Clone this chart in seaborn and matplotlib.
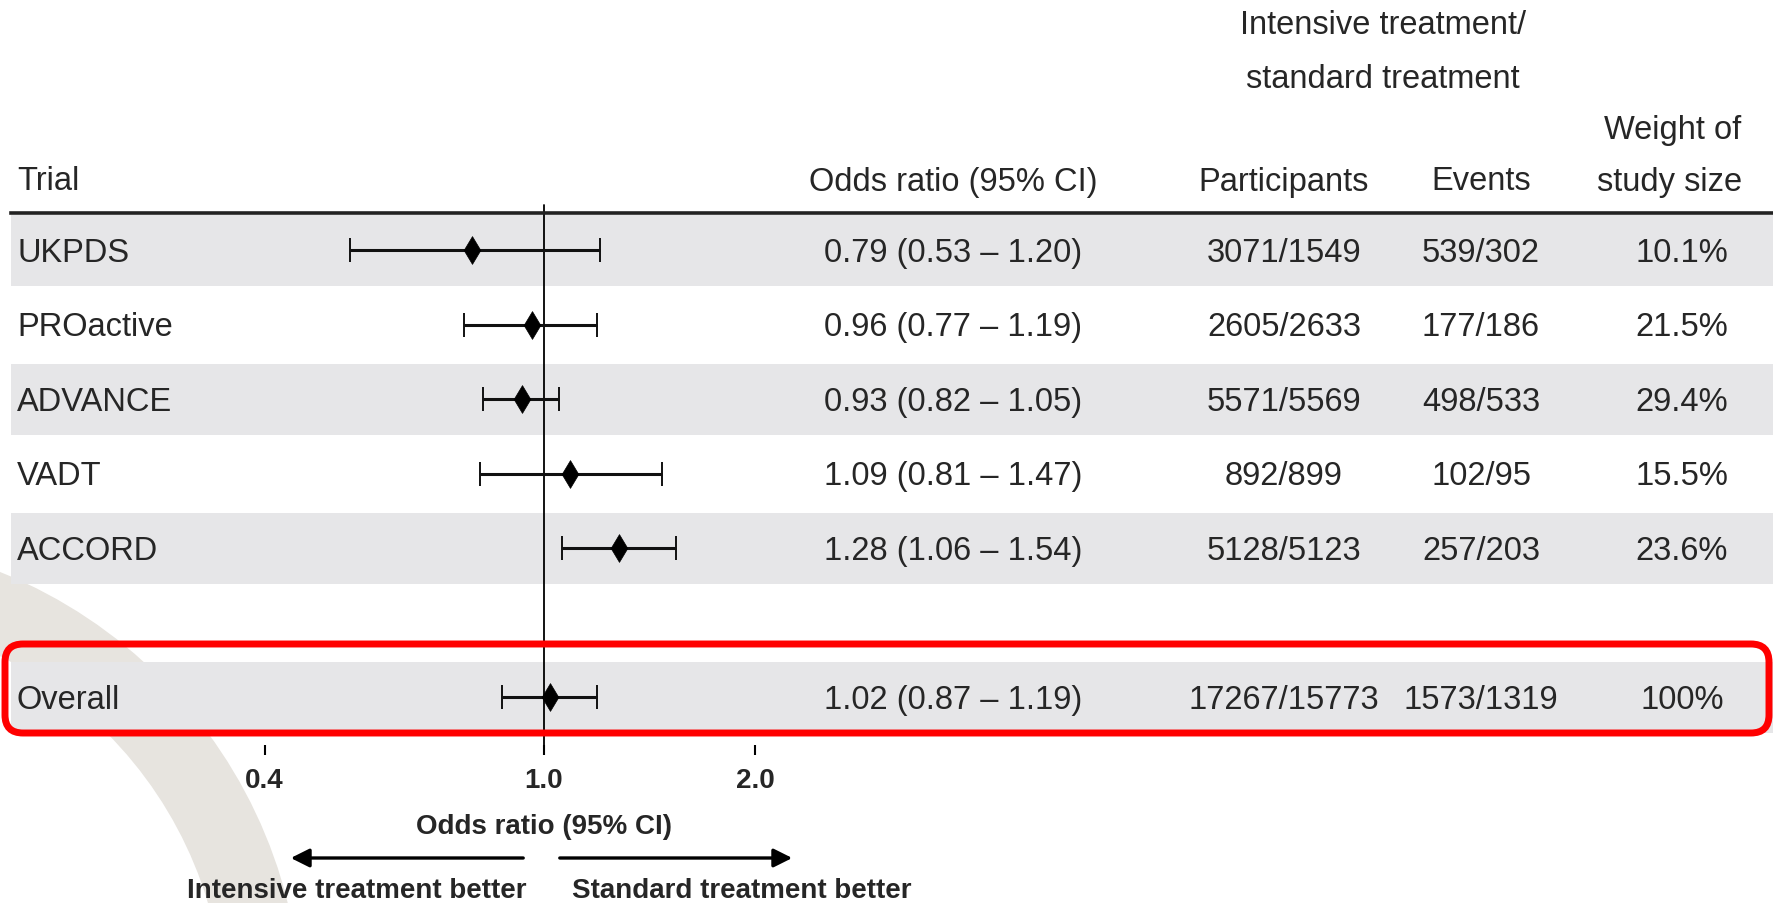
import numpy as np
import pandas as pd
import matplotlib
matplotlib.use("Agg")
import matplotlib.pyplot as plt
import seaborn as sns
from matplotlib import font_manager
from matplotlib.patches import FancyBboxPatch, Wedge
from matplotlib.ticker import NullLocator
from matplotlib.transforms import blended_transform_factory

# data
trials = ["UKPDS", "PROactive", "ADVANCE", "VADT", "ACCORD", "Overall"]
odds = [0.79, 0.96, 0.93, 1.09, 1.28, 1.02]
ci_low = [0.53, 0.77, 0.82, 0.81, 1.06, 0.87]
ci_high = [1.20, 1.19, 1.05, 1.47, 1.54, 1.19]
participants = ["3071/1549", "2605/2633", "5571/5569", "892/899", "5128/5123", "17267/15773"]
events = ["539/302", "177/186", "498/533", "102/95", "257/203", "1573/1319"]
weights = ["10.1%", "21.5%", "29.4%", "15.5%", "23.6%", "100%"]
row_pos = [0, 1, 2, 3, 4, 6]   # blank row before Overall
tick_vals = [0.4, 1.0, 2.0]
tick_labels = ["0.4", "1.0", "2.0"]

df = pd.DataFrame({"trial": trials, "odds": odds, "lo": ci_low, "hi": ci_high, "pos": row_pos})

sns.set_theme(style="white")
names = {f.name for f in font_manager.fontManager.ttflist}
narrow = "Liberation Sans Narrow" in names
FONT = "Liberation Sans Narrow" if narrow else "Liberation Sans"
FS = 28 if narrow else 23.5
FSB = 24 if narrow else 20
plt.rcParams["font.family"] = [FONT, "DejaVu Sans"]

W, H = 1773, 904
fig = plt.figure(figsize=(W / 100, H / 100), dpi=100)

# background layer in pixel coordinates
bg = fig.add_axes([0, 0, 1, 1], zorder=0)
bg.set_xlim(0, W)
bg.set_ylim(H, 0)
bg.axis("off")
bg.add_patch(Wedge((-180, 1020), 482, -90, 0, width=77, color="#e7e4df", lw=0))

# forest axes: log odds ratio, rows as y
top_px, bot_px, row_h = 214, 746, 74.5
x_one, px_per_ln = 544, 305
ax = fig.add_axes([11 / W, 1 - bot_px / H, (W - 11) / W, (bot_px - top_px) / H], zorder=1)
ax.set_facecolor("none")
ax.set_xscale("log")
ax.set_xlim(np.exp((11 - x_one) / px_per_ln), np.exp((W - x_one) / px_per_ln))
ax.set_ylim(-0.5 + (bot_px - top_px) / row_h, -0.5)

# shaded bands on alternate rows (and the overall row)
for p in row_pos:
    if p % 2 == 0:
        ax.axhspan(p - 0.475, p + 0.475, color="#e6e6e8", lw=0, zorder=0)

ax.axvline(1.0, color="black", lw=1.3, ymin=0, ymax=1.015, clip_on=False, zorder=2)
ax.errorbar(df["odds"], df["pos"], xerr=[df["odds"] - df["lo"], df["hi"] - df["odds"]],
            fmt="none", ecolor="#111111", elinewidth=2.2, capsize=8.5, capthick=1.4, zorder=3)
sns.scatterplot(data=df, x="odds", y="pos", marker="d", s=200, color="black",
                edgecolor="black", linewidth=0.5, legend=False, ax=ax, zorder=4)

ax.set_xticks(tick_vals)
ax.set_xticklabels(tick_labels, fontsize=FSB, fontweight="bold")
ax.xaxis.set_minor_locator(NullLocator())
ax.tick_params(axis="x", direction="out", length=7, width=1.5, color="black", pad=9, bottom=True)
ax.set_yticks([])
ax.set_xlabel("")
ax.set_ylabel("")
for s in ["left", "right", "bottom"]:
    ax.spines[s].set_visible(False)
ax.spines["top"].set_visible(True)
ax.spines["top"].set_linewidth(2.6)
ax.spines["top"].set_color("#222222")

# table text, x in pixels, y in rows
tr = blended_transform_factory(bg.transData, ax.transData)
for i, p in enumerate(row_pos):
    ax.text(17, p + 0.03, trials[i], transform=tr, ha="left", va="center", fontsize=FS)
    ax.text(953, p + 0.03, f"{odds[i]:.2f} ({ci_low[i]:.2f} \u2013 {ci_high[i]:.2f})",
            transform=tr, ha="center", va="center", fontsize=FS)
    ax.text(1284, p + 0.03, participants[i], transform=tr, ha="center", va="center", fontsize=FS)
    ax.text(1481, p + 0.03, events[i], transform=tr, ha="center", va="center", fontsize=FS)
    ax.text(1682, p + 0.03, weights[i], transform=tr, ha="center", va="center", fontsize=FS)

# headers
hdr = dict(va="center", fontsize=FS)
bg.text(17, 182, "Trial", ha="left", **hdr)
bg.text(953, 182, "Odds ratio (95% CI)", ha="center", **hdr)
bg.text(1284, 182, "Participants", ha="center", **hdr)
bg.text(1481, 182, "Events", ha="center", **hdr)
bg.text(1673, 131, "Weight of", ha="center", **hdr)
bg.text(1670, 182, "study size", ha="center", **hdr)
bg.text(1383, 26, "Intensive treatment/", ha="center", **hdr)
bg.text(1383, 79, "standard treatment", ha="center", **hdr)

# highlight box around the overall row
ax.add_patch(FancyBboxPatch((5, 645), W - 9, 89, boxstyle="round,pad=0,rounding_size=18",
                            ec="#ff0000", fc="none", lw=5, transform=bg.transData,
                            clip_on=False, zorder=6))

# axis caption and direction arrows
bg.text(544, 827, "Odds ratio (95% CI)", ha="center", va="center", fontsize=FSB, fontweight="bold")
bg.annotate("", xy=(288, 859), xytext=(526, 859),
            arrowprops=dict(arrowstyle="-|>", lw=2.4, color="black", mutation_scale=28))
bg.annotate("", xy=(795, 859), xytext=(557, 859),
            arrowprops=dict(arrowstyle="-|>", lw=2.4, color="black", mutation_scale=28))
bg.text(357, 891, "Intensive treatment better", ha="center", va="center", fontsize=FSB, fontweight="bold")
bg.text(742, 891, "Standard treatment better", ha="center", va="center", fontsize=FSB, fontweight="bold")

fig.savefig("out.png", dpi=100)
